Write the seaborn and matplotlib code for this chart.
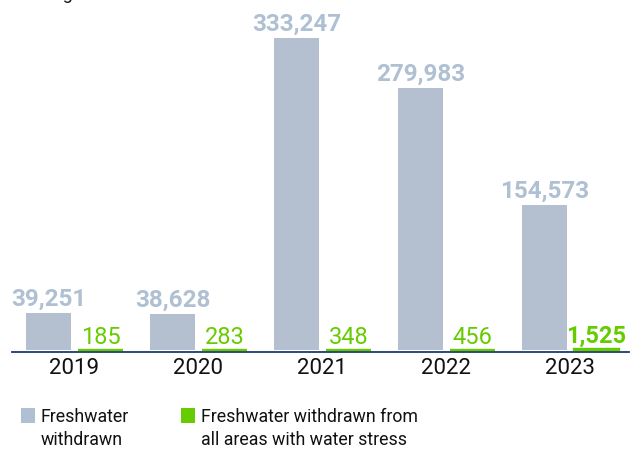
import matplotlib
matplotlib.use("Agg")
import matplotlib.pyplot as plt
from matplotlib.patches import Rectangle
import seaborn as sns
import pandas as pd

years = ["2019", "2020", "2021", "2022", "2023"]
freshwater = [39251, 38628, 333247, 279983, 154573]
stressed = [185, 283, 348, 456, 1525]
series_names = ["Freshwater\nwithdrawn",
                "Freshwater withdrawn from\nall areas with water stress"]

BLUE = "#b0c0d3"
GREEN = "#66cc00"
NAVY = "#1d3d6b"

df = pd.DataFrame({
    "year": years * 2,
    "value": freshwater + stressed,
    "series": [series_names[0]] * len(years) + [series_names[1]] * len(years),
})

sns.set_theme(style="white")
plt.rcParams["font.family"] = ["Roboto", "DejaVu Sans"]

W, H, DPI = 633, 452, 100
fig = plt.figure(figsize=(W / DPI, H / DPI), dpi=DPI)
ax = fig.add_axes([12 / W, (H - 352.5) / H, (629 - 12) / W, 352.5 / H])

sns.barplot(data=df, x="year", y="value", hue="series",
            palette=[BLUE, GREEN], width=0.838, gap=0.134,
            legend=False, ax=ax, errorbar=None)

# thin stress bars are made visible with an outline in their own colour
for bar in ax.containers[0]:
    bar.set_linewidth(0)
for bar in ax.containers[1]:
    bar.set_edgecolor(GREEN)
    bar.set_linewidth(1.7)

units_per_px = 333247 / 312
ax.set_xlim(-0.504, 4.472)
ax.set_ylim(-1.5 * units_per_px, 351 * units_per_px)
ax.set_xlabel("")
ax.set_ylabel("")
ax.set_yticks([])
for s in ["top", "right", "left"]:
    ax.spines[s].set_visible(False)
ax.spines["bottom"].set_color(NAVY)
ax.spines["bottom"].set_linewidth(1.3)
ax.tick_params(axis="x", length=0, pad=4, labelsize=16, labelcolor="#111111")

for bar, v in zip(ax.containers[0], freshwater):
    ax.annotate(f"{v:,}", (bar.get_x() + bar.get_width() / 2, v),
                xytext=(0, 6), textcoords="offset points",
                ha="center", va="baseline", fontsize=17.5,
                fontweight="bold", color=BLUE)
for i, (bar, v) in enumerate(zip(ax.containers[1], stressed)):
    ax.annotate(f"{v:,}", (bar.get_x() + bar.get_width() / 2, v),
                xytext=(0, 5), textcoords="offset points",
                ha="center", va="baseline", fontsize=17,
                fontweight="bold" if i == len(stressed) - 1 else "normal",
                color=GREEN)

# unit caption at the top edge
fig.text(18 / W, 1 + 1 / H, "In megalitres", ha="left", va="baseline",
         fontsize=13, color="#111111")

# legend
for (x0, label, col) in [(21, series_names[0], BLUE), (181, series_names[1], GREEN)]:
    fig.add_artist(Rectangle((x0 / W, 1 - 424 / H), 14 / W, 15 / H,
                             transform=fig.transFigure, color=col, lw=0))
    fig.text((x0 + 20) / W, 1 - 408 / H, label, ha="left", va="top",
             fontsize=12.8, color="#111111", linespacing=1.38,
             transform=fig.transFigure)

fig.savefig("out.png", dpi=DPI)
